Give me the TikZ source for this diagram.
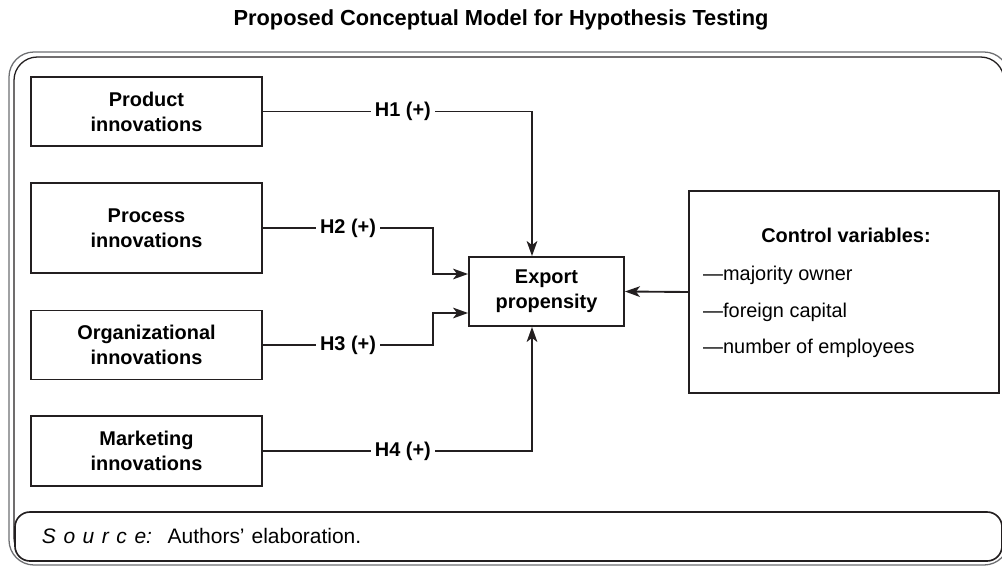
\documentclass[tikz,border=0pt]{standalone}
\usepackage{fontspec}
\setmainfont{Liberation Sans}
\usepackage{tikz}
\usetikzlibrary{arrows.meta,positioning,calc}
\definecolor{inkline}{HTML}{231F20}
\definecolor{framegray}{HTML}{6D6E71}
\newcommand{\srcgap}{\hspace{0.36em}}
\tikzset{
  varbox/.style={
    rectangle, draw=inkline, line width=1.6pt,
    minimum width=6.93cm, minimum height=#1, inner sep=0pt, align=center,
    font=\fontsize{17}{21.3}\selectfont\bfseries
  },
  varbox/.default=2.07cm,
  hyparrow/.style={-{Stealth[length=0.45cm,width=0.32cm,inset=0.12cm]}, line width=1.6pt, draw=inkline},
  hyplabel/.style={fill=white, inner xsep=3.4pt, inner ysep=1pt, font=\fontsize{17}{21.3}\selectfont\bfseries},
  listtext/.style={anchor=base west, inner sep=0pt, font=\fontsize{17}{21.3}\selectfont}
}

\begin{document}
\begin{tikzpicture}[x=0.03cm, y=-0.03cm]
\useasboundingbox (0,0) rectangle (1002,566);
\clip (0,0) rectangle (1002,566);
\node[anchor=base, inner sep=0pt, font=\fontsize{18.6}{22}\selectfont\bfseries] (title) at (501,25.5) {Proposed Conceptual Model for Hypothesis Testing};

\draw[framegray, line width=1.1pt, rounded corners=0.75cm] (9,52) rectangle (1009,565);
\draw[inkline, line width=1.1pt, rounded corners=0.7cm] (14,57) rectangle (1004,561);
\node[rectangle, rounded corners=0.45cm, draw=inkline, line width=1.4pt, fill=white,
  minimum width=29.61cm, minimum height=1.47cm, inner xsep=0.81cm, text width=27.99cm, align=left,
  font=\fontsize{17.9}{21.3}\selectfont] (source) at (508.5,536.5)
  {{\itshape S\srcgap o\srcgap u\srcgap r\srcgap c\srcgap e:}\hspace{0.75em}Authors’ elaboration.};

\node[varbox] (product) at (146.5,111.5) {Product\\innovations};
\node[varbox=2.7cm] (process) at (146.5,228) {Process\\innovations};
\node[varbox] (organizational) at (146.5,345) {Organizational\\innovations};
\node[varbox=2.1cm] (marketing) at (146.5,451) {Marketing\\innovations};
\node[varbox, minimum width=4.65cm] (export) at (546.5,291.5) {Export\\propensity};

\node[varbox, minimum width=9.3cm, minimum height=6.06cm] (control) at (844,292) {};
\node[anchor=base, inner sep=0pt, font=\fontsize{17}{21.3}\selectfont\bfseries] (ctrltitle) at (846,243) {Control variables:};
\node[listtext] (owner) at (703,280) {—majority owner};
\node[listtext] (capital) at (703,317) {—foreign capital};
\node[listtext] (employees) at (703,353) {—number of employees};

\coordinate (h1in) at ($(export.north)+(-14.5,0)$);
\coordinate (h4in) at ($(export.south)+(-14.5,0)$);
\coordinate (bendx) at (433,0);

\draw[hyparrow] (product.east) -- node[hyplabel, pos=0.52] {H1 (+)} (product.east -| h1in) -- (h1in);
\draw[hyparrow] (process.east) -- node[hyplabel] {H2 (+)} (process.east -| bendx) |- ($(export.west)+(0,-17.5)$);
\draw[hyparrow] (organizational.east) -- node[hyplabel] {H3 (+)} (organizational.east -| bendx) |- ($(export.west)+(0,21.5)$);
\draw[hyparrow] (marketing.east) -- node[hyplabel, pos=0.52] {H4 (+)} (marketing.east -| h4in) -- (h4in);
\draw[hyparrow] (control.west) -- (export.east);
\end{tikzpicture}
\end{document}
